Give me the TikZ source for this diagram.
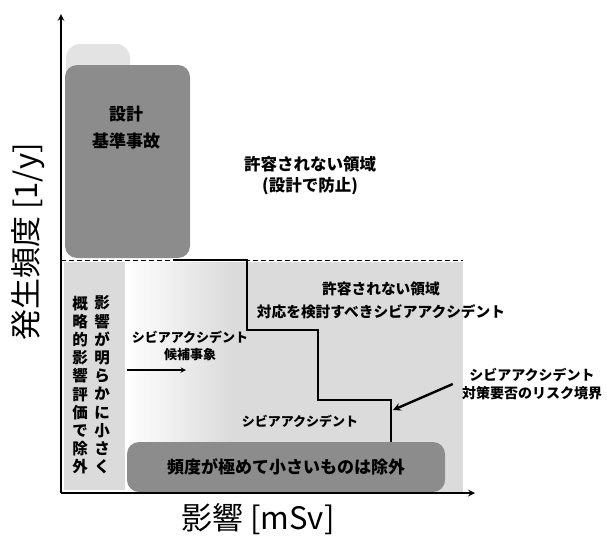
\documentclass[tikz,border=0pt]{standalone}
\usepackage{fontspec}
\setmainfont{Noto Sans CJK JP}
\usetikzlibrary{arrows, positioning}
\definecolor{darkbox}{gray}{0.55}
\definecolor{lightbox}{gray}{0.86}
\tikzset{>=stealth,
every node/.style={align=center, inner sep=0pt},
lbl/.style={font=\bfseries\fontsize{14}{20}\selectfont},
tate/.style={font=\bfseries\fontsize{15.5}{18.2}\selectfont},
axislbl/.style={font=\fontsize{31}{31}\selectfont},
axis/.style={->, line width=2pt},
boundary/.style={line width=1.5pt},
}

\begin{document}
\begin{tikzpicture}[x=1pt, y=-1pt]
    \useasboundingbox (0,0) rectangle (607,536);
    \coordinate (o) at (61,493);
    \coordinate (ytip) at (61,14);
    \coordinate (xtip) at (475,493);

    % regions
    \fill[lightbox] (230,262) rectangle (463,492);
    \shade[left color=white, right color=lightbox] (125,262) rectangle (231,492);
    \fill[lightbox] (64,262) rectangle (125,490);
    \fill[gray!22, rounded corners=14pt] (66,44) rectangle (130,90);
    \fill[darkbox, rounded corners=12pt] (65,258) -- (65,65) -- (190,65) -- (190,258) -- cycle;

    \node[lbl, font=\bfseries\fontsize{17}{27}\selectfont] (dba) at (126,128) {設計\\基準事故};
    \node[lbl, font=\bfseries\fontsize{16.5}{21}\selectfont] (ng1) at (310,176) {許容されない領域\\(設計で防止)};

    \node[tate] (gairyaku) at (80,385) {概\\略\\的\\影\\響\\評\\価\\で\\除\\外};
    \node[tate] (eikyo) at (102,385) {影\\響\\が\\明\\ら\\か\\に\\小\\さ\\く};

    \node[lbl, font=\bfseries\fontsize{13}{17}\selectfont] (cand) at (190,346) {シビアアクシデント\\候補事象};
    \node[lbl, font=\bfseries\fontsize{14.7}{23}\selectfont] (ng2) at (381,300) {許容されない領域\\対応を検討すべきシビアアクシデント};
    \node[lbl, font=\bfseries\fontsize{13}{17}\selectfont] (sa) at (300,421) {シビアアクシデント};
    \node[lbl, font=\bfseries\fontsize{14}{18}\selectfont] (risk) at (532,384) {シビアアクシデント\\対策要否のリスク境界};

    % bottom bar
    \node[fill=darkbox, rounded corners=12pt, minimum width=318pt, minimum height=50pt,
          font=\bfseries\fontsize{17}{17}\selectfont] (lowfreq) at (286,467) {頻度が極めて小さいものは除外};

    \draw[line width=1pt, dash pattern=on 5pt off 3pt] (o |- 0,260) -- (463,260);
    \draw[boundary] (173,260) -- (247,260) -- (247,330) -- (318,330)
        -- (318,400) -- (391,400) -- (391,442);

    \coordinate (c1) at (127,370);
    \coordinate (c2) at (186,370);
    \draw[->, line width=1.4pt] (c1) -- (c2);
    \coordinate (stepc) at (393,410);
    \draw[->, line width=2.4pt] ([xshift=-9pt]risk.west) -- (stepc);

    % axes
    \draw[axis] (o) -- (ytip);
    \draw[axis] (o) -- (xtip);
    \node[axislbl, rotate=90] (ylbl) at (28,242) {発生頻度 [1/y]};
    \node[axislbl] (xlbl) at (258,519) {影響 [mSv]};
\end{tikzpicture}
\end{document}
